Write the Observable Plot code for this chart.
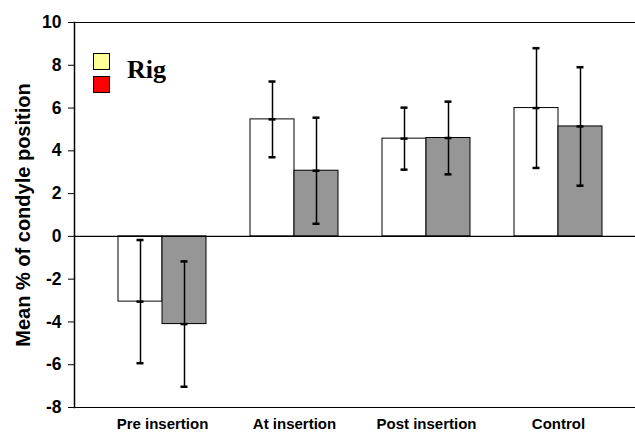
<!DOCTYPE html>
<html>
<head>
<meta charset="utf-8">
<script src="https://cdn.jsdelivr.net/npm/d3@7"></script>
<script src="https://cdn.jsdelivr.net/npm/@observablehq/plot@0.6"></script>
<style>
  html, body { margin: 0; padding: 0; background: #fff; }
  #wrap { position: relative; width: 635px; height: 433px; overflow: hidden; }
  #legend { position: absolute; left: 93px; top: 53px; font-family: "Liberation Serif", "Times New Roman", serif; }
  .sw { position: absolute; width: 15px; height: 15px; border: 1px solid #000; box-sizing: content-box; }
  #legtext { position: absolute; left: 34px; top: 2px; font-size: 26px; font-weight: bold; white-space: nowrap; line-height: 30px; }
</style>
</head>
<body>
<div id="wrap">
  <div id="chart"></div>
  <div id="legend">
    <div class="sw" style="left:0;top:0;background:#ffff99"></div>
    <div class="sw" style="left:0;top:23px;background:#ff0000"></div>
    <div id="legtext">Rig</div>
  </div>
</div>
<script>
const categories = ["Pre insertion", "At insertion", "Post insertion", "Control"];
const seriesA = [-3.05, 5.47, 4.57, 6.0];   // white bars
const errA    = [2.88, 1.77, 1.45, 2.8];
const seriesB = [-4.1, 3.07, 4.6, 5.14];    // gray bars
const errB    = [2.93, 2.48, 1.7, 2.77];
const yTicks  = [-8, -6, -4, -2, 0, 2, 4, 6, 8, 10];

const A = categories.map((c, i) => ({cat: c, v: seriesA[i], lo: seriesA[i] - errA[i], hi: seriesA[i] + errA[i]}));
const B = categories.map((c, i) => ({cat: c, v: seriesB[i], lo: seriesB[i] - errB[i], hi: seriesB[i] + errB[i]}));

const capInset = 40.5;
function errMarks(data, dx) {
  return [
    Plot.ruleX(data, {x: "cat", y1: "lo", y2: "hi", dx, stroke: "#000", strokeWidth: 1.5}),
    Plot.tickY(data, {x: "cat", y: "hi", dx, insetLeft: capInset, insetRight: capInset, stroke: "#000", strokeWidth: 2.5}),
    Plot.tickY(data, {x: "cat", y: "lo", dx, insetLeft: capInset, insetRight: capInset, stroke: "#000", strokeWidth: 2.5}),
    Plot.tickY(data, {x: "cat", y: "v", dx, insetLeft: capInset, insetRight: capInset, stroke: "#000", strokeWidth: 2.5})
  ];
}

const chart = Plot.plot({
  width: 635,
  height: 433,
  marginTop: 22,
  marginBottom: 26,
  marginLeft: 74,
  marginRight: 0,
  style: {fontFamily: "'Liberation Sans', Arial, sans-serif", fontWeight: "bold", color: "#000", background: "#fff"},
  x: {type: "band", domain: categories, range: [74, 646], paddingInner: 1/3, paddingOuter: 1/3, axis: null},
  y: {domain: [-8, 10], axis: null},
  marks: [
    Plot.barY(A, {x: "cat", y: "v", insetRight: 44, fill: "#ffffff", stroke: "#000", strokeWidth: 1}),
    Plot.barY(B, {x: "cat", y: "v", insetLeft: 44, fill: "#969696", stroke: "#000", strokeWidth: 1}),
    ...errMarks(A, -22),
    ...errMarks(B, 22),
    Plot.ruleY([0, 10, -8], {stroke: "#000", strokeWidth: 1.2}),
    Plot.frame({anchor: "left", stroke: "#000", strokeWidth: 1.5}),
    Plot.axisX({tickSize: 0, tickPadding: 11, fontSize: 15, label: null}),
    Plot.axisY({ticks: yTicks, tickSize: 6, tickPadding: 7, fontSize: 17.5, tickFormat: d => String(d), label: null}),
    Plot.axisY({ticks: [], label: "Mean % of condyle position", labelAnchor: "center", labelOffset: 59, labelArrow: "none", fontSize: 20})
  ]
});
document.getElementById("chart").appendChild(chart);
</script>
</body>
</html>
